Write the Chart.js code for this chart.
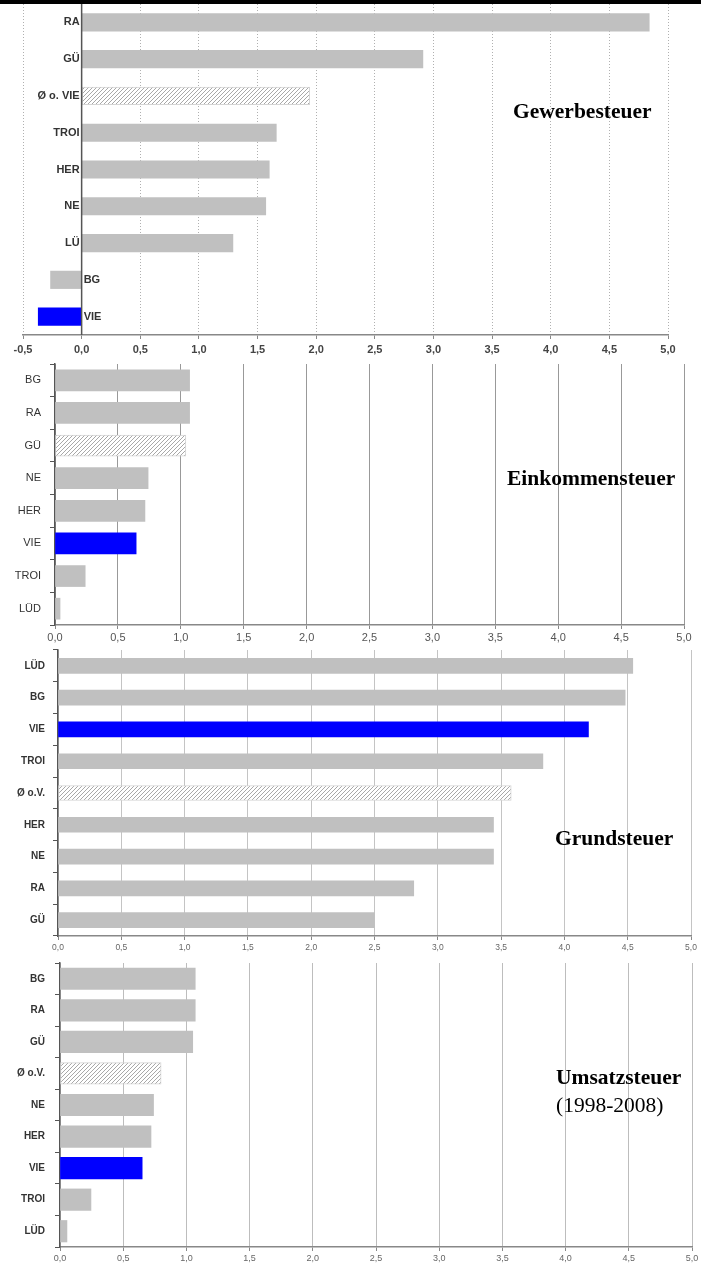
<!DOCTYPE html>
<html>
<head>
<meta charset="utf-8">
<script src="https://cdn.jsdelivr.net/npm/chart.js@4.4.0/dist/chart.umd.min.js"></script>
<style>
  body { margin: 0; background: #fff; width: 701px; height: 1264px; position: relative; overflow: hidden; }
  canvas { position: absolute; left: 0; }
  .topbar { position: absolute; left: 0; top: 0; width: 701px; height: 4px; background: #000; }
  .title { position: absolute; font-family: "Liberation Serif", "Times New Roman", serif; font-size: 21.5px; line-height: 24px; color: #000; white-space: nowrap; }
  .title b { font-weight: bold; }
</style>
</head>
<body>
<canvas id="gew" width="701" height="358" style="top:0"></canvas>
<canvas id="eink" width="701" height="290" style="top:360px"></canvas>
<canvas id="grund" width="701" height="307" style="top:648px"></canvas>
<canvas id="ums" width="701" height="309" style="top:955px"></canvas>
<div class="topbar"></div>
<div class="title" style="left:513px;top:99px"><b>Gewerbesteuer</b></div>
<div class="title" style="left:507px;top:466px"><b>Einkommensteuer</b></div>
<div class="title" style="left:555px;top:826px"><b>Grundsteuer</b></div>
<div class="title" style="left:556px;top:1065px"><b>Umsatzsteuer</b></div>
<div class="title" style="left:556px;top:1093px">(1998-2008)</div>

<script>
// Gewerbesteuer
const gewCats = ["RA", "GÜ", "Ø o. VIE", "TROI", "HER", "NE", "LÜ", "BG", "VIE"]
const gewVals = [4.84, 2.91, 1.945, 1.66, 1.60, 1.57, 1.29, -0.265, -0.37]

// Einkommensteuer
const einkCats = ["BG", "RA", "GÜ", "NE", "HER", "VIE", "TROI", "LÜD"]
const einkVals = [1.07, 1.07, 1.04, 0.74, 0.715, 0.645, 0.24, 0.04]

// Grundsteuer
const grundCats = ["LÜD", "BG", "VIE", "TROI", "Ø o.V.", "HER", "NE", "RA", "GÜ"]
const grundVals = [4.54, 4.48, 4.19, 3.83, 3.58, 3.44, 3.44, 2.81, 2.50]

// Umsatzsteuer (1998-2008)
const umsCats = ["BG", "RA", "GÜ", "Ø o.V.", "NE", "HER", "VIE", "TROI", "LÜD"]
const umsVals = [1.07, 1.07, 1.05, 0.80, 0.74, 0.72, 0.65, 0.245, 0.055]

// which bar of each panel is the hatched average bar
const gewHatch = 2
const einkHatch = 2
const grundHatch = 4
const umsHatch = 3

const sans = '"Liberation Sans", Arial, sans-serif'

function hatchPattern() {
  const c = document.createElement('canvas')
  c.width = 4
  c.height = 4
  const g = c.getContext('2d')
  g.fillStyle = '#fff'
  g.fillRect(0, 0, 4, 4)
  g.strokeStyle = '#a8a8a8'
  g.lineWidth = 1
  g.beginPath()
  g.moveTo(0, 4); g.lineTo(4, 0)
  g.moveTo(-1, 1); g.lineTo(1, -1)
  g.moveTo(3, 5); g.lineTo(5, 3)
  g.stroke()
  return g.createPattern(c, 'repeat')
}
const hatch = hatchPattern()

function barColors(cats, hatchIdx) {
  return cats.map((c, i) => {
    if (i === hatchIdx) return hatch
    if (c === 'VIE') return '#0000ff'
    return '#c0c0c0'
  })
}

function commaTick(v) {
  return Number(v).toFixed(1).replace('.', ',')
}

// labels sitting on the zero line (Gewerbesteuer)
const zeroLabels = {
  id: 'zeroLabels',
  afterDatasetsDraw(chart) {
    const ctx = chart.ctx
    const x = chart.scales.x
    const x0 = x.getPixelForValue(0)
    const area = chart.chartArea
    ctx.save()
    ctx.strokeStyle = '#555'
    ctx.lineWidth = 1.5
    ctx.beginPath()
    ctx.moveTo(x0, area.top)
    ctx.lineTo(x0, area.bottom)
    ctx.stroke()
    ctx.font = 'bold 11px ' + sans
    ctx.fillStyle = '#333'
    ctx.textBaseline = 'middle'
    const vals = chart.data.datasets[0].data
    chart.getDatasetMeta(0).data.forEach((bar, i) => {
      const neg = vals[i] < 0
      ctx.textAlign = neg ? 'left' : 'right'
      ctx.fillText(chart.data.labels[i], neg ? x0 + 2 : x0 - 2, bar.y)
    })
    ctx.restore()
  }
}

function makeChart(id, cats, vals, hatchIdx, o) {
  const colors = barColors(cats, hatchIdx)
  return new Chart(document.getElementById(id), {
    type: 'bar',
    data: {
      labels: cats,
      datasets: [{
        data: vals,
        backgroundColor: colors,
        borderColor: '#d4d4d4',
        borderWidth: ctx => ctx.dataIndex === hatchIdx ? 1 : 0,
        borderSkipped: false,
        barThickness: o.barThickness,
        categoryPercentage: 1
      }]
    },
    options: {
      indexAxis: 'y',
      responsive: false,
      animation: false,
      layout: { padding: o.padding },
      plugins: { legend: { display: false }, tooltip: { enabled: false } },
      scales: {
        x: {
          type: 'linear',
          min: o.xMin,
          max: 5,
          afterFit: s => {
            s.height = o.xHeight
            s.paddingLeft = 0
            s.paddingRight = 0
          },
          ticks: {
            stepSize: 0.5,
            callback: commaTick,
            font: o.tickFont,
            color: o.tickColor,
            padding: o.tickPad,
            maxRotation: 0,
            autoSkip: false
          },
          grid: {
            color: o.gridColor,
            lineWidth: 1,
            tickLength: 4,
            tickColor: '#888'
          },
          border: { color: '#888', width: 1.5, dash: o.gridDash }
        },
        y: {
          display: o.yDisplay,
          afterFit: s => {
            s.width = o.yWidth
            s.paddingTop = 0
            s.paddingBottom = 0
          },
          ticks: { font: o.catFont, color: '#333', padding: o.catPad },
          grid: { drawOnChartArea: false, tickLength: 5, tickColor: '#555', offset: true },
          border: { color: '#555', width: 1.5 }
        }
      }
    },
    plugins: o.yDisplay ? [] : [zeroLabels]
  })
}

makeChart('gew', gewCats, gewVals, gewHatch, {
  padding: { left: 23, right: 33, top: 4, bottom: 0 },
  xMin: -0.5, xHeight: 23, yDisplay: false, yWidth: 0,
  barThickness: 17.5,
  gridColor: '#b0b0b0', gridDash: [1, 2],
  tickFont: { family: sans, size: 11, weight: 'bold' }, tickColor: '#444', tickPad: 4,
  catFont: { family: sans, size: 11, weight: 'bold' }, catPad: 0
})

makeChart('eink', einkCats, einkVals, einkHatch, {
  padding: { left: 0, right: 17, top: 4, bottom: 0 },
  xMin: 0, xHeight: 25, yDisplay: true, yWidth: 55,
  barThickness: 21,
  gridColor: '#999', gridDash: [],
  tickFont: { family: sans, size: 11 }, tickColor: '#555', tickPad: 2,
  catFont: { family: sans, size: 11 }, catPad: 9
})

makeChart('grund', grundCats, grundVals, grundHatch, {
  padding: { left: 0, right: 10, top: 2, bottom: 0 },
  xMin: 0, xHeight: 19, yDisplay: true, yWidth: 58,
  barThickness: 15,
  gridColor: '#c4c4c4', gridDash: [],
  tickFont: { family: sans, size: 8.5 }, tickColor: '#666', tickPad: 3,
  catFont: { family: sans, size: 10, weight: 'bold' }, catPad: 8
})

makeChart('ums', umsCats, umsVals, umsHatch, {
  padding: { left: 0, right: 9, top: 8, bottom: 0 },
  xMin: 0, xHeight: 17, yDisplay: true, yWidth: 60,
  barThickness: 21.5,
  gridColor: '#bdbdbd', gridDash: [],
  tickFont: { family: sans, size: 9 }, tickColor: '#666', tickPad: 2,
  catFont: { family: sans, size: 10, weight: 'bold' }, catPad: 10
})
</script>
</body>
</html>
